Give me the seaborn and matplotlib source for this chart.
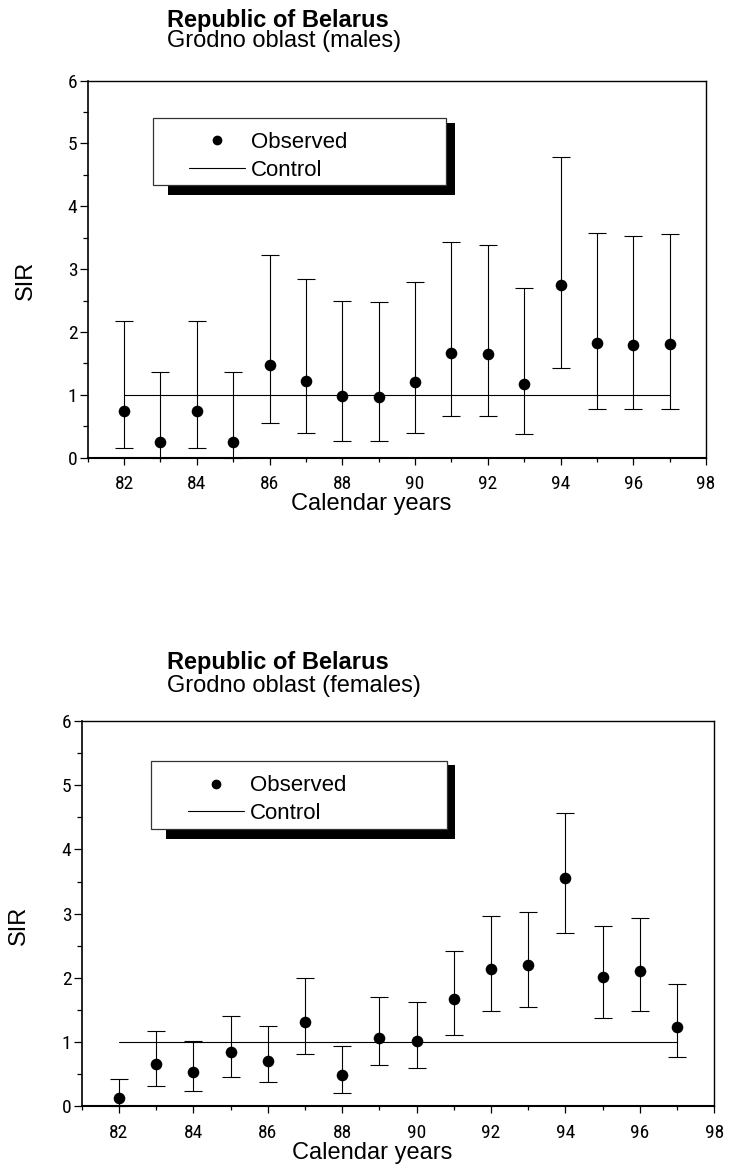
import matplotlib
matplotlib.use("Agg")
import matplotlib.pyplot as plt
from matplotlib.lines import Line2D
from matplotlib.patches import Rectangle
from matplotlib import font_manager as fm
from matplotlib.ticker import MultipleLocator, FixedLocator
import seaborn as sns
import pandas as pd

# ---------------- data ----------------
years = [82, 83, 84, 85, 86, 87, 88, 89, 90, 91, 92, 93, 94, 95, 96, 97]
x_tick_labels = ["82", "84", "86", "88", "90", "92", "94", "96", "98"]
y_tick_labels = ["0", "1", "2", "3", "4", "5", "6"]

male_sir = [0.75, 0.25, 0.75, 0.25, 1.48, 1.22, 0.98, 0.96, 1.20, 1.67, 1.65, 1.17, 2.75, 1.82, 1.80, 1.81]
male_low = [0.15, 0.00, 0.15, 0.00, 0.55, 0.40, 0.27, 0.27, 0.39, 0.67, 0.66, 0.38, 1.42, 0.78, 0.77, 0.78]
male_high = [2.17, 1.37, 2.17, 1.37, 3.22, 2.85, 2.49, 2.47, 2.80, 3.43, 3.39, 2.70, 4.79, 3.57, 3.53, 3.56]

female_sir = [0.12, 0.65, 0.53, 0.84, 0.71, 1.31, 0.48, 1.07, 1.02, 1.67, 2.14, 2.20, 3.55, 2.01, 2.11, 1.24]
female_low = [0.01, 0.32, 0.24, 0.45, 0.37, 0.82, 0.20, 0.64, 0.59, 1.11, 1.49, 1.55, 2.70, 1.38, 1.48, 0.77]
female_high = [0.43, 1.17, 1.02, 1.40, 1.25, 1.99, 0.94, 1.70, 1.62, 2.41, 2.96, 3.02, 4.57, 2.80, 2.93, 1.90]

control_years = [82, 97]
control_sir = [1.0, 1.0]

title_main = "Republic of Belarus"
subtitles = ["Grodno oblast (males)", "Grodno oblast (females)"]
legend_labels = ["Observed", "Control"]
x_label = "Calendar years"
y_label = "SIR"

# ---------------- style ----------------
sns.set_theme(style="ticks")
plt.rcParams["font.family"] = ["Liberation Sans", "DejaVu Sans"]
plt.rcParams["axes.facecolor"] = "white"
plt.rcParams["figure.facecolor"] = "white"
plt.rcParams["text.color"] = "black"
plt.rcParams["axes.labelcolor"] = "black"
plt.rcParams["xtick.color"] = "black"
plt.rcParams["ytick.color"] = "black"
plt.rcParams["xtick.labelcolor"] = "black"
plt.rcParams["ytick.labelcolor"] = "black"


def pick_font(names):
    for n in names:
        try:
            fm.findfont(fm.FontProperties(family=n), fallback_to_default=False)
            return n
        except Exception:
            continue
    return "DejaVu Sans"


narrow = pick_font(["Liberation Sans Narrow", "Roboto Condensed", "Liberation Sans"])

W, H = 730, 1173
fig = plt.figure(figsize=(W / 100, H / 100), dpi=100)

# panel layout in pixels: left, top, right, bottom of axes
panels = [
    dict(box=(87.7, 80.5, 706.0, 457.7), sir=male_sir, low=male_low, high=male_high,
         title_y=27, sub_y=46.7,
         frame=(152.7, 118.3, 446.0, 185.0), shadow=(168.0, 122.7, 455.0, 195.0),
         row1=141.0, hx=189.0),
    dict(box=(81.7, 721.0, 714.3, 1106.2), sir=female_sir, low=female_low, high=female_high,
         title_y=669, sub_y=691.7,
         frame=(150.7, 760.7, 446.7, 829.3), shadow=(166.0, 765.0, 455.0, 839.0),
         row1=784.3, hx=188.3),
]

for i, p in enumerate(panels):
    l, t, r, b = p["box"]
    ax = fig.add_axes([l / W, 1 - b / H, (r - l) / W, (b - t) / H])
    aw, ah = r - l, b - t

    df = pd.DataFrame({"year": years, "sir": p["sir"], "low": p["low"], "high": p["high"]})
    ctrl = pd.DataFrame({"year": control_years, "sir": control_sir})

    # error bars
    ax.errorbar(df["year"], df["sir"],
                yerr=[df["sir"] - df["low"], df["high"] - df["sir"]],
                fmt="none", ecolor="black", elinewidth=0.8, capsize=6.5,
                capthick=0.8, zorder=2, clip_on=False)
    # control line
    sns.lineplot(data=ctrl, x="year", y="sir", ax=ax, color="black", linewidth=0.8,
                 zorder=2, legend=False)
    # observed points
    sns.scatterplot(data=df, x="year", y="sir", ax=ax, color="black", s=70,
                    edgecolor="black", linewidth=0, zorder=3, legend=False, clip_on=False)

    ax.set_xlim(81, 98)
    ax.set_ylim(0, 6)
    ax.xaxis.set_major_locator(FixedLocator([int(v) for v in x_tick_labels]))
    ax.set_xticklabels(x_tick_labels)
    ax.xaxis.set_minor_locator(MultipleLocator(1))
    ax.yaxis.set_major_locator(FixedLocator([int(v) for v in y_tick_labels]))
    ax.set_yticklabels(y_tick_labels)
    ax.yaxis.set_minor_locator(MultipleLocator(0.5))

    ax.tick_params(axis="x", which="major", direction="out", length=4.7, width=0.9,
                   pad=8.0, labelsize=14, color="black", labelcolor="black",
                   labelfontfamily=narrow)
    ax.tick_params(axis="x", which="minor", direction="out", length=3.0, width=0.9, color="black")
    ax.tick_params(axis="y", which="major", direction="out", length=5.8, width=0.9,
                   pad=1.6, labelsize=14, color="black", labelcolor="black",
                   labelfontfamily=narrow)
    ax.tick_params(axis="y", which="minor", direction="out", length=3.6, width=0.9, color="black")

    for side, lw in [("left", 1.2), ("bottom", 1.5), ("top", 1.0), ("right", 1.0)]:
        ax.spines[side].set_visible(True)
        ax.spines[side].set_color("black")
        ax.spines[side].set_linewidth(lw)

    ax.set_xlabel(x_label, fontsize=17, va="top", color="black")
    ax.xaxis.set_label_coords(0.459, -0.094)
    ax.set_ylabel(y_label, fontsize=17, va="center", color="black")
    ax.yaxis.set_label_coords(-0.100, 0.469)

    def fx(px):
        return (px - l) / aw

    def fy(py):
        return (b - py) / ah

    sx0, sy0, sx1, sy1 = p["shadow"]
    bx0, by0, bx1, by1 = p["frame"]
    ax.add_patch(Rectangle((fx(sx0), fy(sy1)), fx(sx1) - fx(sx0), fy(sy0) - fy(sy1),
                           transform=ax.transAxes, facecolor="black", edgecolor="none", zorder=4))
    ax.add_patch(Rectangle((fx(bx0), fy(by1)), fx(bx1) - fx(bx0), fy(by0) - fy(by1),
                           transform=ax.transAxes, facecolor="white", edgecolor="#333333",
                           linewidth=0.9, zorder=5))

    handles = [
        Line2D([], [], linestyle="none", marker="o", markersize=6, color="black"),
        Line2D([], [], color="black", linewidth=0.8),
    ]
    leg = ax.legend(handles, legend_labels, loc="upper left",
                    bbox_to_anchor=(fx(p["hx"]), fy(p["row1"]) + 9.0 / ah),
                    frameon=False, fontsize=16, handlelength=2.5, handletextpad=0.27,
                    borderpad=0, borderaxespad=0, labelspacing=0.30, numpoints=1,
                    labelcolor="black")
    leg.set_zorder(6)

    fig.text(167 / W, 1 - p["title_y"] / H, title_main, fontsize=17, fontweight="bold",
             ha="left", va="baseline", color="black")
    fig.text(167 / W, 1 - p["sub_y"] / H, subtitles[i], fontsize=17,
             ha="left", va="baseline", color="black")

fig.savefig("out.png", dpi=100)
